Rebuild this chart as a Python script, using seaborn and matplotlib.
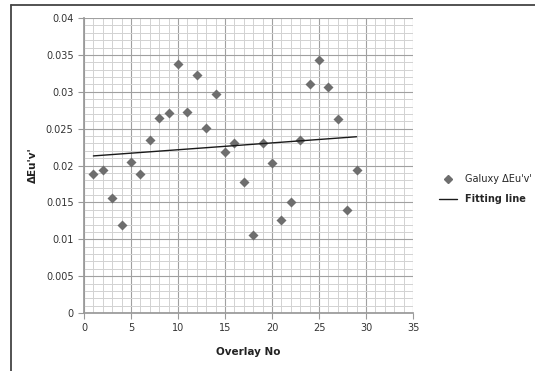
import matplotlib
matplotlib.use("Agg")
import matplotlib.pyplot as plt
import seaborn as sns
import pandas as pd
from matplotlib.ticker import MultipleLocator
from matplotlib.lines import Line2D

overlay_no = list(range(1, 30))
delta_euv = [0.0188, 0.0194, 0.0156, 0.0120, 0.0205, 0.0188, 0.0235, 0.0264, 0.0271,
             0.0338, 0.0272, 0.0323, 0.0251, 0.0297, 0.0218, 0.0230, 0.0177, 0.0106,
             0.0230, 0.0203, 0.0126, 0.0151, 0.0234, 0.0311, 0.0343, 0.0306, 0.0263,
             0.0139, 0.0194]
fit_x = [1, 29]
fit_y = [0.0213, 0.0239]
x_ticks = [0, 5, 10, 15, 20, 25, 30, 35]
y_ticks = [0, 0.005, 0.01, 0.015, 0.02, 0.025, 0.03, 0.035, 0.04]
y_tick_labels = ["0", "0.005", "0.01", "0.015", "0.02", "0.025", "0.03", "0.035", "0.04"]

sns.set_theme(style="white")
plt.rcParams['font.family'] = ['DejaVu Sans']

fig = plt.figure(figsize=(5.35, 3.71), dpi=100)
ax = fig.add_axes([84/535, 1-313/371, (413-84)/535, (313-18)/371])

df = pd.DataFrame({"x": overlay_no, "y": delta_euv})
fit_df = pd.DataFrame({"x": fit_x, "y": fit_y})

sns.scatterplot(data=df, x="x", y="y", marker="D", s=26, color="#6e6e6e",
                edgecolor="#6e6e6e", linewidth=0, ax=ax, zorder=3)
sns.lineplot(data=fit_df, x="x", y="y", color="#1a1a1a", linewidth=1.0, ax=ax, zorder=3)

ax.set_xlim(0, 35)
ax.set_ylim(0, 0.04)
ax.set_xticks(x_ticks)
ax.set_xticklabels([str(v) for v in x_ticks])
ax.set_yticks(y_ticks)
ax.set_yticklabels(y_tick_labels)
ax.xaxis.set_minor_locator(MultipleLocator(1))
ax.yaxis.set_minor_locator(MultipleLocator(0.001))

ax.grid(which="major", color="#a0a0a0", linewidth=0.8, zorder=1)
ax.grid(which="minor", color="#d2d2d2", linewidth=0.7, zorder=0)
ax.set_axisbelow(True)

for side in ["top", "right"]:
    ax.spines[side].set_visible(False)
ax.spines["left"].set_color("#999999")
ax.spines["bottom"].set_color("#999999")

ax.tick_params(axis="both", which="major", labelsize=7, colors="#999999",
               labelcolor="#333333", direction="out", length=4, width=0.8,
               bottom=True, left=True)
ax.tick_params(axis="both", which="minor", length=0)

ax.set_xlabel("Overlay No", fontsize=7.5, fontweight="bold", color="#222222", labelpad=10)
ax.set_ylabel("ΔEu'v'", fontsize=7.5, fontweight="bold", color="#222222", labelpad=6)

handles = [Line2D([], [], marker="D", linestyle="none", color="#6e6e6e", markersize=4.5),
           Line2D([], [], color="#1a1a1a", linewidth=1.0)]
leg = fig.legend(handles, ["Galuxy ΔEu'v'", "Fitting line"], loc="center left",
                 bbox_to_anchor=(0.805, 0.49), frameon=False, fontsize=7,
                 handlelength=1.8, labelspacing=1.0)
leg.get_texts()[1].set_fontweight("bold")

# figure frame: left and top edges only
fig.add_artist(Line2D([11/535, 11/535], [0, 1-5/371], transform=fig.transFigure,
                      color="#444444", linewidth=1.3))
fig.add_artist(Line2D([11/535, 1], [1-5/371, 1-5/371], transform=fig.transFigure,
                      color="#444444", linewidth=1.3))

fig.savefig("out.png", dpi=100)
